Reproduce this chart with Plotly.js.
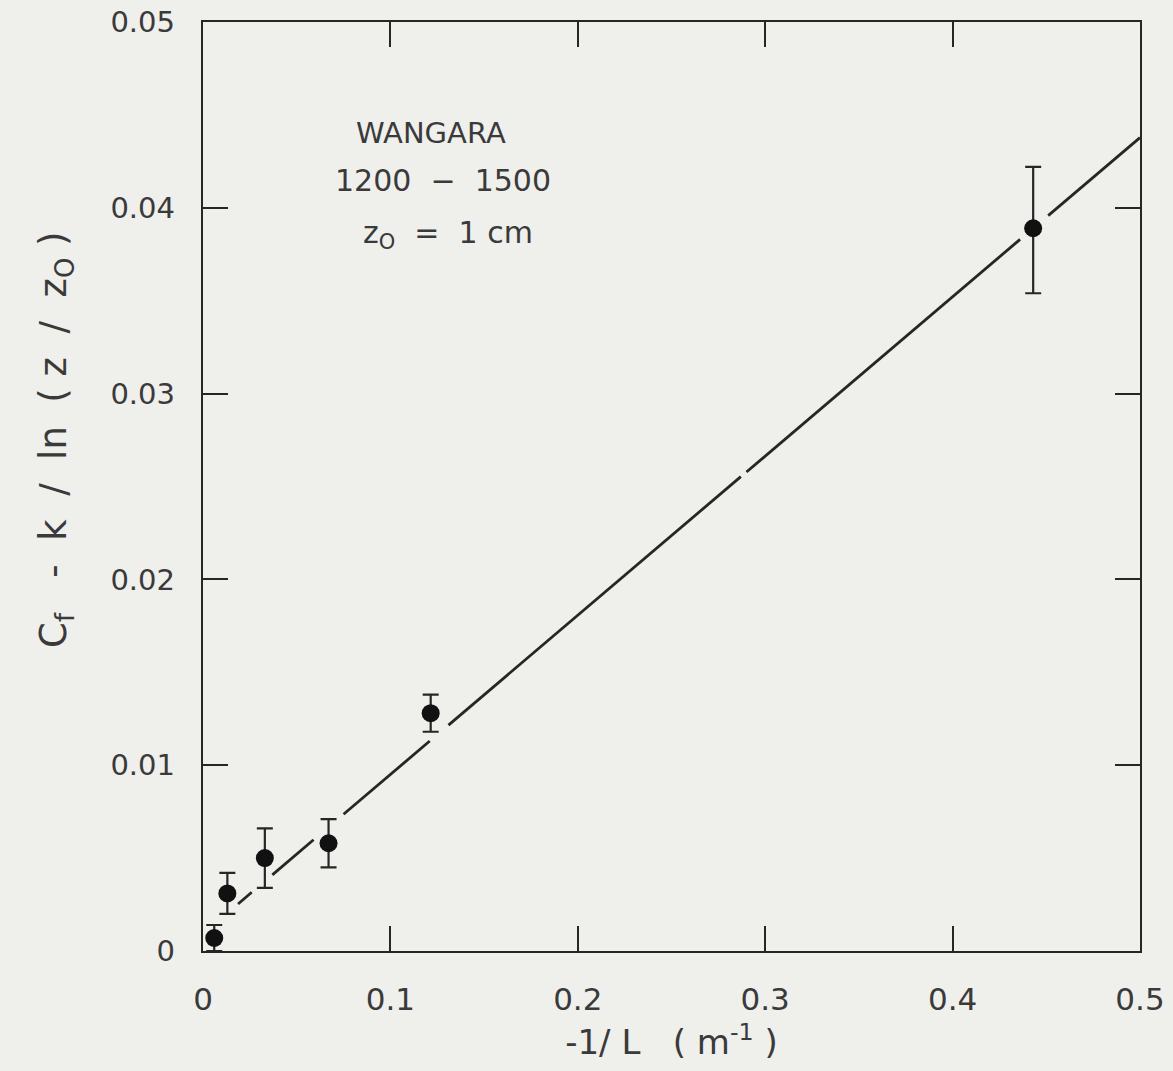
<!DOCTYPE html>
<html>
<head>
<meta charset="utf-8">
<script src="https://cdn.plot.ly/plotly-3.0.1.min.js"></script>
<style>
  html, body { margin: 0; padding: 0; background: #efefec; }
  #chart { width: 1173px; height: 1071px; }
</style>
</head>
<body>
<div id="chart"></div>
<script>
// Measured data points: -1/L (m^-1) and Cf - k/ln(z/z0)
const invL   = [0.006, 0.013, 0.033, 0.067, 0.1215, 0.443];
const cfDiff = [0.0007, 0.0031, 0.0050, 0.0058, 0.0128, 0.0389];
const errPlus  = [0.0007, 0.0011, 0.0016, 0.0013, 0.0010, 0.0033];
const errMinus = [0.0007, 0.0011, 0.0016, 0.0013, 0.0010, 0.0035];

// Fitted line, drawn as broken segments (gaps as in the original)
const fitX = [0.0187, 0.026, null, 0.037, 0.059, null, 0.075, 0.121, null, 0.131, 0.287, null, 0.290, 0.436, null, 0.451, 0.5];
const fitY = [0.00253, 0.00316, null, 0.00410, 0.00599, null, 0.00736, 0.01130, null, 0.01216, 0.02553, null, 0.02578, 0.03830, null, 0.03958, 0.04378];

// Tick labels
const xTickVals = [0, 0.1, 0.2, 0.3, 0.4, 0.5];
const xTickText = ["0", "0.1", "0.2", "0.3", "0.4", "0.5"];
const yTickVals = [0, 0.01, 0.02, 0.03, 0.04, 0.05];
const yTickText = ["0", "0.01", "0.02", "0.03", "0.04", "0.05"];

const ink = "#262626";
const txt = "#3a3a3a";
const fontFam = "DejaVu Sans, Liberation Sans, sans-serif";

const traces = [
  {
    x: fitX, y: fitY, type: "scatter", mode: "lines",
    line: { color: ink, width: 2.8 }, connectgaps: false,
    hoverinfo: "skip", showlegend: false
  },
  {
    x: invL, y: cfDiff, type: "scatter", mode: "markers",
    marker: { color: "#111", size: 18, symbol: "circle" },
    error_y: { type: "data", symmetric: false, array: errPlus, arrayminus: errMinus,
               color: ink, thickness: 2.2, width: 8 },
    showlegend: false
  }
];

const layout = {
  width: 1173, height: 1071,
  paper_bgcolor: "#efefec", plot_bgcolor: "#efefec",
  margin: { l: 203, r: 33, t: 22, b: 120 },
  font: { family: fontFam, color: txt },
  showlegend: false,
  xaxis: {
    range: [0, 0.5], tickvals: xTickVals, ticktext: xTickText,
    ticks: "inside", ticklen: 25, tickwidth: 2, tickcolor: ink,
    showline: true, linecolor: ink, linewidth: 2.2, mirror: "ticks",
    showgrid: false, zeroline: false,
    tickfont: { size: 31, color: txt, family: fontFam },
    ticklabelstandoff: 20,
    title: { text: "-1/ L   ( m<sup>-1</sup> )", font: { size: 34, color: txt, family: fontFam }, standoff: 14 }
  },
  yaxis: {
    range: [0, 0.05], tickvals: yTickVals, ticktext: yTickText,
    ticks: "inside", ticklen: 25, tickwidth: 2, tickcolor: ink,
    showline: true, linecolor: ink, linewidth: 2.2, mirror: "ticks",
    showgrid: false, zeroline: false,
    tickfont: { size: 29, color: txt, family: fontFam },
    ticklabelstandoff: 20
  },
  annotations: [
    { text: "C<sub>f</sub>   -  k  /  ln  ( z  /  z<sub>O</sub> )", xref: "paper", yref: "paper",
      x: -0.157, y: 0.55, xanchor: "center", yanchor: "middle", textangle: -90,
      showarrow: false, font: { size: 37, color: txt, family: fontFam } },
    { text: "WANGARA", xref: "paper", yref: "paper", x: 0.243, y: 0.881,
      xanchor: "center", yanchor: "middle", showarrow: false,
      font: { size: 29, color: txt, family: fontFam } },
    { text: "1200  −  1500", xref: "paper", yref: "paper", x: 0.256, y: 0.829,
      xanchor: "center", yanchor: "middle", showarrow: false,
      font: { size: 30, color: txt, family: fontFam } },
    { text: "z<sub>O</sub>  =  1 cm", xref: "paper", yref: "paper", x: 0.262, y: 0.771,
      xanchor: "center", yanchor: "middle", showarrow: false,
      font: { size: 30, color: txt, family: fontFam } }
  ]
};

Plotly.newPlot("chart", traces, layout, { displayModeBar: false, staticPlot: true });
</script>
</body>
</html>
